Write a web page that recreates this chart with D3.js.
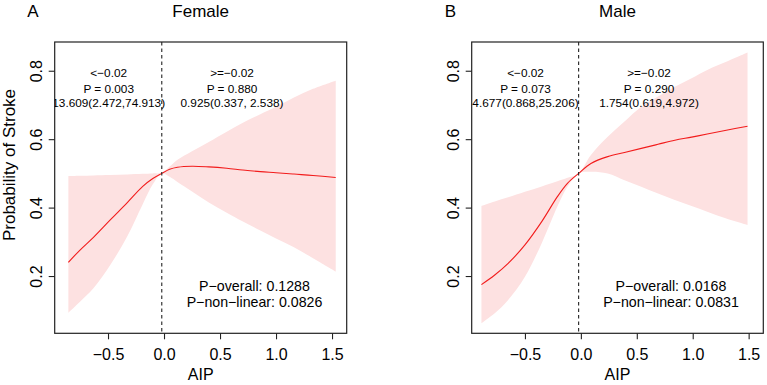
<!DOCTYPE html>
<html><head><meta charset="utf-8">
<script src="https://cdn.jsdelivr.net/npm/d3@7"></script>
<style>
body{margin:0;background:#fff;}
svg{font-family:"Liberation Sans",Arial,Helvetica,sans-serif;}
</style></head><body>
<svg id="chart" width="767" height="385"></svg>
<script>
// ---------------- data ----------------
const femaleX     = [-0.854,-0.75,-0.63,-0.48,-0.33,-0.19,-0.10,-0.02,0.05,0.12,0.25,0.40,0.56,0.70,0.86,1.00,1.16,1.33,1.533];
const femaleFit   = [0.240,0.276,0.313,0.364,0.414,0.462,0.485,0.500,0.512,0.518,0.521,0.519,0.515,0.510,0.505,0.502,0.498,0.494,0.488];
const femaleLower = [0.093,0.125,0.164,0.232,0.315,0.410,0.468,0.500,0.490,0.475,0.447,0.415,0.385,0.360,0.333,0.310,0.284,0.252,0.213];
const femaleUpper = [0.492,0.493,0.494,0.495,0.497,0.499,0.500,0.502,0.520,0.540,0.565,0.592,0.622,0.647,0.673,0.695,0.722,0.747,0.771];

const maleX     = [-0.889,-0.77,-0.65,-0.50,-0.35,-0.21,-0.12,-0.02,0.09,0.24,0.39,0.54,0.69,0.84,0.99,1.13,1.30,1.49];
const maleFit   = [0.175,0.203,0.237,0.291,0.359,0.432,0.471,0.500,0.529,0.549,0.561,0.573,0.585,0.597,0.606,0.615,0.626,0.638];
const maleLower = [0.062,0.091,0.130,0.198,0.296,0.403,0.461,0.500,0.505,0.500,0.480,0.461,0.441,0.422,0.405,0.388,0.368,0.349];
const maleUpper = [0.405,0.418,0.430,0.446,0.462,0.477,0.487,0.500,0.554,0.607,0.652,0.695,0.725,0.753,0.778,0.802,0.826,0.853];

const cutoff = -0.02;
const xTicks = [-0.5, 0.0, 0.5, 1.0, 1.5];
const yTicks = [0.2, 0.4, 0.6, 0.8];
const panelLetters = ["A", "B"];
const panelTitles = ["Female", "Male"];
const leftLabels  = [["<\u22120.02","P = 0.003","13.609(2.472,74.913)"],["<\u22120.02","P = 0.073","4.677(0.868,25.206)"]];
const rightLabels = [[">=\u22120.02","P = 0.880","0.925(0.337, 2.538)"],[">=\u22120.02","P = 0.290","1.754(0.619,4.972)"]];
const pOverall   = ["P\u2212overall: 0.1288","P\u2212overall: 0.0168"];
const pNonLinear = ["P\u2212non\u2212linear: 0.0826","P\u2212non\u2212linear: 0.0831"];
const xLabel = "AIP";
const yLabel = "Probability of Stroke";

// ---------------- layout ----------------
const svg = d3.select("#chart");
const panels = [
  {x:femaleX, fit:femaleFit, lo:femaleLower, hi:femaleUpper, left:54.7, right:346.7, leftTxt:108.7, rightTxt:232, pTxt:254.5, letterX:33},
  {x:maleX, fit:maleFit, lo:maleLower, hi:maleUpper, left:471.7, right:763.3, leftTxt:525.5, rightTxt:649, pTxt:671, letterX:450.5}
];
const plotTop = 42, plotBottom = 333.3;
const y = d3.scaleLinear().domain([0.0326, 0.884]).range([plotBottom, plotTop]);
const ink = "#000";

panels.forEach((p, i) => {
  const x = d3.scaleLinear().domain([-0.976, 1.631]).range([p.left, p.right]);
  const g = svg.append("g");
  const clipId = "clip" + i;
  svg.append("clipPath").attr("id", clipId).append("rect")
    .attr("x", p.left).attr("y", plotTop).attr("width", p.right - p.left).attr("height", plotBottom - plotTop);

  const pts = p.x.map((v, k) => ({x: v, f: p.fit[k], lo: p.lo[k], hi: p.hi[k]}));
  const curve = d3.curveCatmullRom.alpha(0.5);
  g.append("path").datum(pts)
    .attr("d", d3.area().x(d => x(d.x)).y0(d => y(d.lo)).y1(d => y(d.hi)).curve(curve))
    .attr("fill", "#fde1e1").attr("stroke", "none");
  g.append("path").datum(pts)
    .attr("d", d3.line().x(d => x(d.x)).y(d => y(d.f)).curve(curve))
    .attr("fill", "none").attr("stroke", "#f21c1c").attr("stroke-width", 1.1);

  // dashed cutoff line
  g.append("line").attr("x1", x(cutoff)).attr("x2", x(cutoff)).attr("y1", plotTop).attr("y2", plotBottom)
    .attr("stroke", "#222").attr("stroke-width", 1.1).attr("stroke-dasharray", "3.5,3");

  // box
  g.append("rect").attr("x", p.left).attr("y", plotTop).attr("width", p.right - p.left).attr("height", plotBottom - plotTop)
    .attr("fill", "none").attr("stroke", "#222").attr("stroke-width", 1.2);

  // axes
  const xa = g.append("g").attr("transform", `translate(0,${plotBottom})`)
    .call(d3.axisBottom(x).tickValues(xTicks).tickSize(6).tickFormat(d3.format(".1f")));
  xa.select(".domain").remove();
  xa.selectAll("line").attr("stroke", "#222").attr("stroke-width", 1.1);
  xa.selectAll("text").attr("y", 26.5).attr("dy", 0).attr("font-size", 16).attr("fill", ink)
    .text(d => d3.format(".1f")(d).replace("-", "\u2212"));

  const ya = g.append("g").attr("transform", `translate(${p.left},0)`)
    .call(d3.axisLeft(y).tickValues(yTicks).tickSize(6).tickFormat(d3.format(".1f")));
  ya.select(".domain").remove();
  ya.selectAll("line").attr("stroke", "#222").attr("stroke-width", 1.1);
  ya.selectAll("text").attr("x", 0).attr("y", -13).attr("dy", 0).attr("font-size", 16)
    .attr("fill", ink).attr("text-anchor", "middle").attr("transform", "rotate(-90)");

  // annotations
  const ann = g.append("g").attr("clip-path", `url(#${clipId})`).attr("font-size", 11.8).attr("fill", ink).attr("text-anchor", "middle");
  [77, 92.5, 106.6].forEach((yy, k) => {
    ann.append("text").attr("x", p.leftTxt).attr("y", yy).text(leftLabels[i][k]);
    ann.append("text").attr("x", p.rightTxt).attr("y", yy).text(rightLabels[i][k]);
  });
  g.append("text").attr("x", p.pTxt).attr("y", 290.7).attr("font-size", 14.2).attr("text-anchor", "middle").attr("fill", ink).text(pOverall[i]);
  g.append("text").attr("x", p.pTxt).attr("y", 307.3).attr("font-size", 14.2).attr("text-anchor", "middle").attr("fill", ink).text(pNonLinear[i]);

  // titles
  g.append("text").attr("x", (p.left + p.right) / 2).attr("y", 17).attr("font-size", 17).attr("text-anchor", "middle").attr("fill", ink).text(panelTitles[i]);
  g.append("text").attr("x", p.letterX).attr("y", 17).attr("font-size", 17).attr("text-anchor", "middle").attr("fill", ink).text(panelLetters[i]);
  g.append("text").attr("x", (p.left + p.right) / 2).attr("y", 380).attr("font-size", 16).attr("text-anchor", "middle").attr("fill", ink).text(xLabel);
});

svg.append("text").attr("transform", "translate(15,165) rotate(-90)").attr("font-size", 17)
  .attr("text-anchor", "middle").attr("fill", ink).text(yLabel);
</script>
</body></html>
